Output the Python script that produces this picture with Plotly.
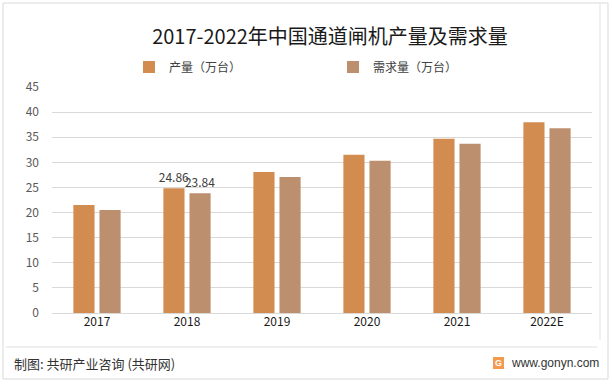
import plotly.graph_objects as go

categories = ["2017", "2018", "2019", "2020", "2021", "2022E"]
production = [21.5, 24.86, 28.1, 31.5, 34.7, 38.0]
demand = [20.5, 23.84, 27.1, 30.3, 33.7, 36.8]
labeled_category = "2018"
series_names = ["产量（万台）", "需求量（万台）"]
y_ticks = [0, 5, 10, 15, 20, 25, 30, 35, 40, 45]

title_text = "2017-2022年中国通道闸机产量及需求量"
source_text = "制图: 共研产业咨询 (共研网)"
site_text = "www.gonyn.com"

FONT = "Noto Sans CJK SC"
W, H = 612, 385
L, R, T, B = 52, 20, 87, 72
PW, PH = W - L - R, H - T - B


def px_x(p):
    return (p - L) / PW


def px_y(p):
    return (H - B - p) / PH


def labels(vals):
    return [f"{v:.2f}" if c == labeled_category else "" for c, v in zip(categories, vals)]


fig = go.Figure()
fig.add_trace(go.Bar(
    x=categories, y=production, name=series_names[0],
    marker=dict(color="#D38C50", line=dict(width=0)),
    text=labels(production), textposition="outside", constraintext="none",
    textfont=dict(size=12, color="#404040", family=FONT),
    cliponaxis=False,
))
fig.add_trace(go.Bar(
    x=categories, y=demand, name=series_names[1],
    marker=dict(color="#BC8F6E", line=dict(width=0)),
    text=labels(demand), textposition="outside", constraintext="none",
    textfont=dict(size=12, color="#404040", family=FONT),
    cliponaxis=False,
))

shapes = []
shapes.append(dict(type="rect", xref="paper", yref="paper",
                   x0=px_x(3), x1=px_x(608), y0=px_y(379), y1=px_y(3),
                   line=dict(color="#D9D9D9", width=1), layer="below"))
shapes.append(dict(type="line", xref="paper", yref="paper",
                   x0=px_x(600), x1=px_x(600), y0=px_y(340), y1=px_y(3),
                   line=dict(color="#E3E3E3", width=1), layer="below"))
shapes.append(dict(type="line", xref="paper", yref="paper",
                   x0=px_x(6), x1=px_x(597), y0=px_y(347), y1=px_y(347),
                   line=dict(color="#E0E0E0", width=1), layer="below"))
# logo
shapes.append(dict(type="rect", xref="paper", yref="paper",
                   x0=px_x(493), x1=px_x(504), y0=px_y(369), y1=px_y(357),
                   fillcolor="#F39A4C", line=dict(width=0)))

annotations = [
    dict(text=source_text, xref="paper", yref="paper", x=px_x(12), y=px_y(363),
         xanchor="left", yanchor="middle", showarrow=False,
         font=dict(size=13, color="#333333", family=FONT)),
    dict(text=site_text, xref="paper", yref="paper", x=px_x(509), y=px_y(363),
         xanchor="left", yanchor="middle", showarrow=False,
         font=dict(size=12, color="#333333", family="Arial")),
    dict(text="<b>G</b>", xref="paper", yref="paper", x=px_x(498.5), y=px_y(363),
         xanchor="center", yanchor="middle", showarrow=False,
         font=dict(size=9, color="white", family="Arial")),
]

fig.update_layout(
    width=W, height=H,
    margin=dict(l=L, r=R, t=T, b=B, autoexpand=False),
    paper_bgcolor="white", plot_bgcolor="white",
    font=dict(family=FONT, color="#404040"),
    title=dict(text=title_text, x=330 / W, y=1 - 37 / H, xanchor="center", yanchor="middle",
               xref="container", yref="container",
               font=dict(size=20, color="#1a1a1a", family=FONT)),
    barmode="group", bargap=0.42, bargroupgap=0.19,
    showlegend=True,
    legend=dict(orientation="h", x=px_x(129), y=px_y(67), xanchor="left", yanchor="middle",
                font=dict(size=12, color="#404040", family=FONT),
                itemwidth=30, entrywidth=159, entrywidthmode="pixels",
                bgcolor="rgba(0,0,0,0)"),
    xaxis=dict(type="category", showgrid=False, showline=False, ticks="",
               tickfont=dict(size=12, color="#1a1a1a", family=FONT)),
    yaxis=dict(range=[0, 45], tickvals=y_ticks, showgrid=True, gridcolor="#D9D9D9",
               gridwidth=1, zeroline=True, zerolinecolor="#D9D9D9", zerolinewidth=1,
               showline=False, ticks="", ticklabelstandoff=12,
               tickfont=dict(size=12, color="#595959", family=FONT)),
    shapes=shapes, annotations=annotations,
)

fig.write_html("out.html", config={"displayModeBar": False},
               post_script="document.body.style.margin='0px';")
